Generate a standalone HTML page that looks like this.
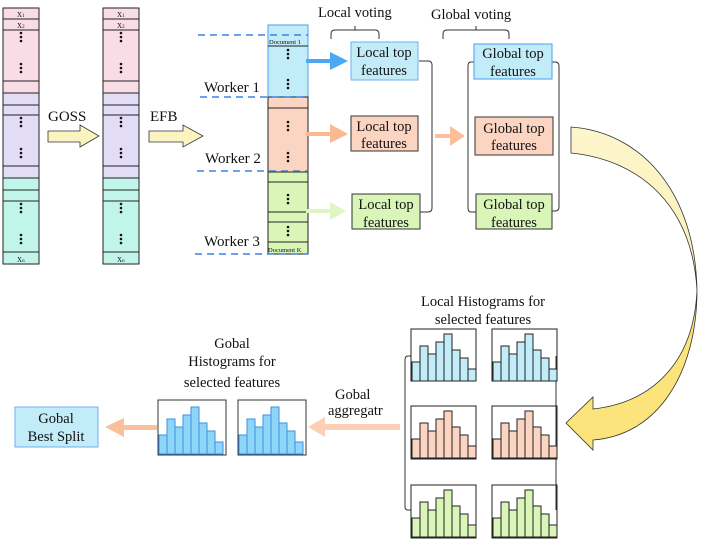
<!DOCTYPE html>
<html><head><meta charset="utf-8"><style>
html,body{margin:0;padding:0;background:#fff}
svg{display:block}
svg text{font-family:"Liberation Serif","DejaVu Serif",serif !important;fill:#111}
</style></head><body>
<svg width="702" height="540" viewBox="0 0 702 540" xmlns="http://www.w3.org/2000/svg" font-family="Liberation Serif, DejaVu Serif, serif">
<defs>
<linearGradient id="yg" x1="0" y1="0" x2="0" y2="1">
<stop offset="0" stop-color="#fdf5cc"/><stop offset="0.5" stop-color="#fcf0b8"/><stop offset="0.6" stop-color="#fbe47c"/><stop offset="1" stop-color="#fbe47c"/>
</linearGradient>
<g id="bars">
<rect x="1" y="33" width="8" height="19"/><rect x="9" y="17" width="8" height="35"/><rect x="17" y="25" width="8" height="27"/><rect x="25" y="13" width="8" height="39"/><rect x="33" y="5" width="8" height="47"/><rect x="41" y="21" width="8" height="31"/><rect x="49" y="29" width="8" height="23"/><rect x="57" y="40" width="8" height="12"/>
</g>
<g id="dots" fill="#111"><circle cx="0" cy="0" r="1.3"/><circle cx="0" cy="4" r="1.3"/><circle cx="0" cy="8" r="1.3"/></g>
</defs>

<g stroke="#222" stroke-width="1">
<g id="col">
<rect x="3" y="8" width="36" height="85" fill="#f8dce6"/>
<rect x="3" y="93" width="36" height="85" fill="#e3dcf6"/>
<rect x="3" y="178" width="36" height="86" fill="#c2f5ea"/>
<line x1="3" y1="19" x2="39" y2="19"/><line x1="3" y1="30" x2="39" y2="30"/><line x1="3" y1="81" x2="39" y2="81"/>
<line x1="3" y1="105" x2="39" y2="105"/><line x1="3" y1="115" x2="39" y2="115"/><line x1="3" y1="166" x2="39" y2="166"/>
<line x1="3" y1="190" x2="39" y2="190"/><line x1="3" y1="201" x2="39" y2="201"/><line x1="3" y1="252" x2="39" y2="252"/>
</g>
<use href="#col" x="100"/>
</g>
<g font-size="7">
<text x="17" y="17">X<tspan font-size="5">1</tspan></text><text x="17" y="28">X<tspan font-size="5">2</tspan></text><text x="17" y="262">X<tspan font-size="5">n</tspan></text>
<text x="117" y="17">X<tspan font-size="5">1</tspan></text><text x="117" y="28">X<tspan font-size="5">2</tspan></text><text x="117" y="262">X<tspan font-size="5">n</tspan></text>
</g>
<g>
<use href="#dots" x="21" y="33"/><use href="#dots" x="21" y="64"/><use href="#dots" x="21" y="118"/><use href="#dots" x="21" y="149"/><use href="#dots" x="21" y="204"/><use href="#dots" x="21" y="235"/>
<use href="#dots" x="121" y="33"/><use href="#dots" x="121" y="64"/><use href="#dots" x="121" y="118"/><use href="#dots" x="121" y="149"/><use href="#dots" x="121" y="204"/><use href="#dots" x="121" y="235"/>
</g>

<text x="48" y="121" font-size="15">GOSS</text>
<text x="150" y="121" font-size="15">EFB</text>
<path d="M48,131 H80 V125 L99,136 L80,147 V142 H48 Z" fill="#fbf4c0" stroke="#333" stroke-width="0.8"/>
<path d="M149,131 H183 V125 L203,136 L183,147 V142 H149 Z" fill="#fbf4c0" stroke="#333" stroke-width="0.8"/>

<g stroke="#222" stroke-width="1">
<rect x="268" y="25" width="40" height="72" fill="#c2ecf8" stroke="#4a9ef0"/>
<rect x="268" y="97" width="40" height="75" fill="#fcd5c2"/>
<rect x="268" y="172" width="40" height="82" fill="#daf5b8"/>
<line x1="268" y1="46" x2="308" y2="46"/><line x1="268" y1="108" x2="308" y2="108"/>
<line x1="268" y1="182" x2="308" y2="182"/><line x1="268" y1="212" x2="308" y2="212"/><line x1="268" y1="222" x2="308" y2="222"/><line x1="268" y1="242" x2="308" y2="242"/>
</g>
<text x="269" y="44" font-size="6.5">Document 1</text>
<text x="268" y="252" font-size="6.5">Document K</text>
<use href="#dots" x="288" y="50"/><use href="#dots" x="288" y="80"/><use href="#dots" x="288" y="122"/><use href="#dots" x="288" y="153"/><use href="#dots" x="288" y="195"/><use href="#dots" x="288" y="227"/>
<g stroke="#3b82e8" stroke-width="1.5" stroke-dasharray="7,5">
<line x1="198" y1="35" x2="308" y2="35"/><line x1="200" y1="97" x2="308" y2="97"/><line x1="197" y1="171" x2="308" y2="171"/><line x1="195" y1="254" x2="308" y2="254"/>
</g>
<text x="204" y="92" font-size="15">Worker 1</text>
<text x="205" y="163" font-size="15">Worker 2</text>
<text x="204" y="246" font-size="15">Worker 3</text>

<text x="318" y="17" font-size="14.5">Local voting</text>
<text x="431" y="19" font-size="14.5">Global voting</text>
<g fill="none" stroke="#333" stroke-width="1">
<path d="M331,39 V34 Q331,30 335,30 H375 Q379,30 379,34 V39 M355,30 V26"/>
<path d="M443,39 V34 Q443,30 447,30 H505 Q509,30 509,34 V39 M476,30 V26"/>
<path d="M419,61 H428 Q432,61 432,65 V208 Q432,212 428,212 H420"/>
<path d="M474,62 H471 Q468,62 468,66 V208 Q468,212 471,212 H476"/>
<path d="M552,62 H555 Q559,62 559,66 V207 Q559,211 555,211 H552"/>
</g>

<path d="M306,59 H330 V52 L348,61 L330,70 V63 H306 Z" fill="#4aa8f5"/>
<path d="M306,132 H330 V124 L348,134 L330,143 V136 H306 Z" fill="#fbb991"/>
<path d="M306,209 H330 V202 L346,211 L330,220 V213 H306 Z" fill="#dff6c4"/>
<path d="M435,134 H450 V126 L465,136 L450,146 V138 H435 Z" fill="#fbc09a"/>

<g stroke-width="1">
<rect x="351" y="42" width="67" height="38" fill="#c2ecf8" stroke="#6bb0f0"/>
<rect x="351" y="116" width="67" height="35" fill="#fcd5c2" stroke="#333"/>
<rect x="352" y="194" width="68" height="35" fill="#daf5b8" stroke="#333"/>
<rect x="474" y="44" width="78" height="35" fill="#c2ecf8" stroke="#4a9ef0"/>
<rect x="475" y="117" width="78" height="38" fill="#fcd5c2" stroke="#333"/>
<rect x="476" y="194" width="76" height="35" fill="#daf5b8" stroke="#333"/>
</g>
<g font-size="14.5" text-anchor="middle">
<text x="384" y="57">Local top</text><text x="384" y="75">features</text>
<text x="384" y="131">Local top</text><text x="384" y="148">features</text>
<text x="386" y="209">Local top</text><text x="386" y="227">features</text>
<text x="513" y="58">Global top</text><text x="513" y="76">features</text>
<text x="514" y="133">Global top</text><text x="514" y="150">features</text>
<text x="514" y="209">Global top</text><text x="514" y="227">features</text>
</g>

<path d="M571,127 C640,132 695,190 697,290 C697,370 660,435 593,440 L593,450 L566,423 L593,397 L593,409 C655,402 694,360 697,290 C692,205 640,160 571,153 Z" fill="url(#yg)" stroke="#333" stroke-width="0.8"/>

<text x="483" y="306" font-size="14.5" text-anchor="middle">Local Histograms for</text>
<text x="483" y="324" font-size="14.5" text-anchor="middle">selected features</text>
<g fill="none" stroke="#333"><path d="M411,356 H408 Q405,356 405,360 V507 Q405,510 408,510 H411"/><line x1="556" y1="356" x2="556" y2="510"/></g>
<g stroke="#222" stroke-width="1">
<g fill="#c2ecf8"><use href="#bars" x="411" y="329"/><use href="#bars" x="492" y="329"/></g>
<g fill="#fcd5c2"><use href="#bars" x="411" y="406"/><use href="#bars" x="492" y="406"/></g>
<g fill="#daf5b8"><use href="#bars" x="411" y="485"/><use href="#bars" x="492" y="485"/></g>
<g fill="none"><rect x="411" y="329" width="65" height="52"/><rect x="492" y="329" width="65" height="52"/><rect x="411" y="406" width="65" height="53"/><rect x="492" y="406" width="65" height="53"/><rect x="411" y="485" width="65" height="53"/><rect x="492" y="485" width="65" height="53"/></g>
</g>

<g font-size="14.5" text-anchor="middle">
<text x="232" y="348">Gobal</text><text x="232" y="366">Histograms  for</text><text x="232" y="387">selected features</text>
</g>
<g fill="#8dd6f8" stroke="#3f8fe8" stroke-width="1">
<use href="#bars" x="158" y="402"/>
<use href="#bars" x="238" y="402"/>
</g>
<g fill="none" stroke="#333" stroke-width="1"><rect x="158" y="400" width="68" height="55"/><rect x="238" y="400" width="68" height="55"/></g>

<text x="335" y="399" font-size="14.5">Gobal</text>
<text x="328" y="415" font-size="14.5">aggregatr</text>
<path d="M400,424 H325 V417 L308,427 L325,437 V430 H400 Z" fill="#fcd0b6"/>
<path d="M157,425 H124 V418 L105,427 L124,437 V430 H157 Z" fill="#fbbf9a"/>

<rect x="15" y="407" width="83" height="40" fill="#c2ecf8" stroke="#6bb0f0"/>
<text x="56" y="423" font-size="14.5" text-anchor="middle">Gobal</text>
<text x="56" y="441" font-size="14.5" text-anchor="middle">Best Split</text>
</svg>
</body></html>
